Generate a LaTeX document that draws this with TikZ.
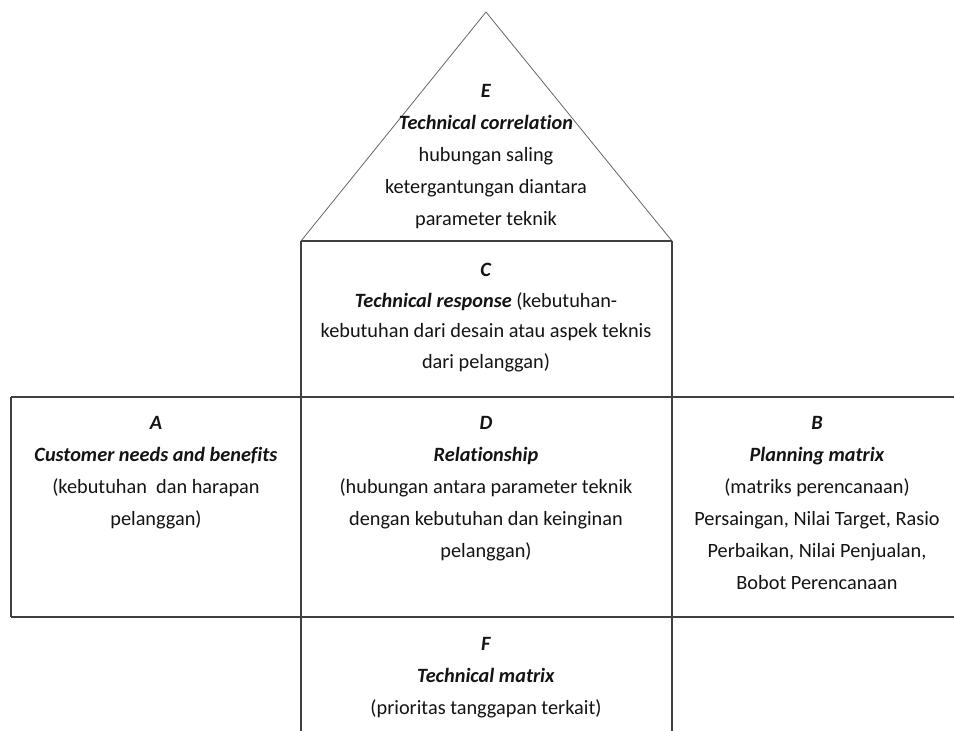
\documentclass[tikz,border=0pt]{standalone}
\usepackage{fontspec}
\setmainfont{Carlito}[Ligatures=NoCommon]
\begin{document}
\begin{tikzpicture}[x=1pt,y=-1pt,
  frame/.style={draw=black!75, line width=1.1pt},
  roof/.style={draw=black!60, line width=0.8pt, line join=round},
  label/.style={align=center, text=black!92, inner sep=0pt,
    font=\fontsize{20.3}{32}\selectfont}]
\useasboundingbox (0,0) rectangle (954,731);
\fill[white] (0,0) rectangle (954,731);

% corner points of the house
\coordinate (apex) at (486,12);
\coordinate (eaveL) at (301,241);
\coordinate (eaveR) at (672,241);
\coordinate (rowTL) at (11,397);
\coordinate (rowTR) at (954,397);
\coordinate (rowBL) at (11,617);
\coordinate (rowBR) at (954,617);
\coordinate (footL) at (301,731);
\coordinate (footR) at (672,731);

% roof
\draw[roof] (eaveL) -- (apex) -- (eaveR);
% walls and floors
\draw[frame] (eaveL) -- (eaveR);
\draw[frame] (eaveL) -- (footL);
\draw[frame] (eaveR) -- (footR);
\draw[frame] (rowTL) -- (rowTR);
\draw[frame] (rowBL) -- (rowBR);
\draw[frame] (rowTL) -- (rowBL);

% room texts
\node[label, anchor=north] (E) at (486,84)
  {\textbf{\textit{E}}\\ \textbf{\textit{Technical correlation}}\\ hubungan saling\\ ketergantungan diantara\\ parameter teknik};
\node[label, anchor=north, font=\fontsize{20.3}{30.5}\selectfont] (C) at (486,263)
  {\textbf{\textit{C}}\\ \textbf{\textit{Technical response}} (kebutuhan-\\ kebutuhan dari desain atau aspek teknis\\ dari pelanggan)};
\node[label, anchor=north] (A) at (156,416)
  {\textbf{\textit{A}}\\ \textbf{\textit{Customer needs and benefits}}\\ (kebutuhan~ dan harapan\\ pelanggan)};
\node[label, anchor=north] (D) at (486,416)
  {\textbf{\textit{D}}\\ \textbf{\textit{Relationship}}\\ (hubungan antara parameter teknik\\ dengan kebutuhan dan keinginan\\ pelanggan)};
\node[label, anchor=north] (B) at (817,416)
  {\textbf{\textit{B}}\\ \textbf{\textit{Planning matrix}}\\ (matriks perencanaan)\\ Persaingan, Nilai Target, Rasio\\ Perbaikan, Nilai Penjualan,\\ Bobot Perencanaan};
\node[label, anchor=north] (F) at (486,637)
  {\textbf{\textit{F}}\\ \textbf{\textit{Technical matrix}}\\ (prioritas tanggapan terkait)};
\end{tikzpicture}
\end{document}
